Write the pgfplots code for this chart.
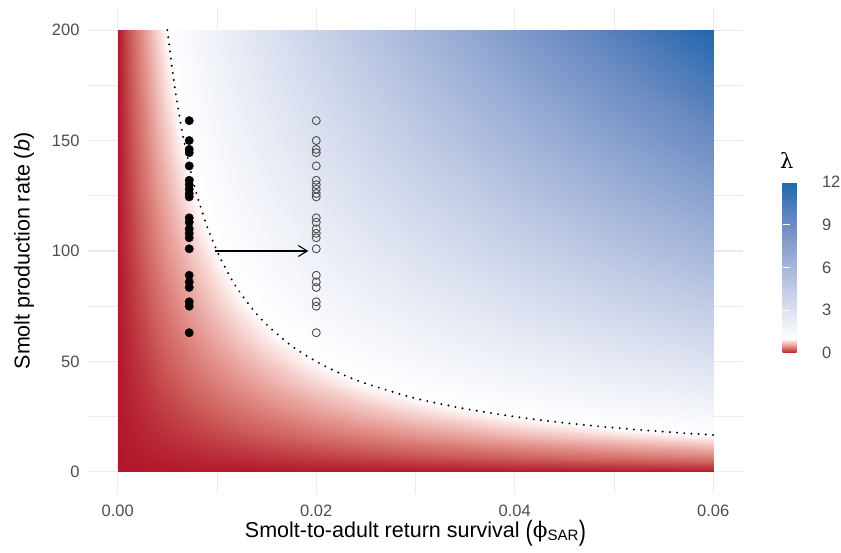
\documentclass[border=0pt]{standalone}
\usepackage{fontspec}
\setmainfont{Liberation Sans}
\newfontfamily\greekfont{DejaVu Serif}
\usepackage{graphicx}
\usepackage{pgfplots}
\pgfplotsset{compat=1.18}
\usetikzlibrary{arrows.meta}
\definecolor{axgray}{HTML}{4D4D4D}
\definecolor{gridmaj}{HTML}{EBEBEB}
\begin{document}
\begin{tikzpicture}[x=1bp,y=1bp]
\useasboundingbox (0,0) rectangle (841,553);
\begin{axis}[
  at={(88bp,59bp)}, anchor=south west,
  scale only axis, width=655bp, height=486bp,
  xmin=-0.003, xmax=0.063, ymin=-10, ymax=210,
  scaled x ticks=false, scaled y ticks=false,
  axis line style={draw=none},
  major tick length=0pt, minor tick length=0pt,
  xtick={0,0.02,0.04,0.06}, xticklabels={0.00,0.02,0.04,0.06},
  minor xtick={0.01,0.03,0.05},
  ytick={0,50,100,150,200}, yticklabels={0,50,100,150,200},
  minor ytick={25,75,125,175},
  grid=both,
  major grid style={gridmaj, line width=1.1bp},
  minor grid style={gridmaj, line width=0.55bp},
  ticklabel style={font=\fontsize{16.5bp}{19bp}\selectfont, text=axgray},
  xticklabel style={yshift=-7bp},
  yticklabel style={xshift=-5bp},
  xlabel={Smolt-to-adult return survival {\raisebox{-0.17em}{\scalebox{1}[1.3]{(}}{\greekfont ϕ}\textsubscript{\fontsize{15bp}{16bp}\selectfont SAR}\raisebox{-0.17em}{\scalebox{1}[1.3]{)}}}},
  xlabel style={at={(axis description cs:0.5,-0.0885)}, anchor=base, font=\fontsize{21.5bp}{24bp}\selectfont},
  ylabel={Smolt production rate (\textit{b})},
  ylabel style={at={(axis description cs:-0.0977,0.5)}, anchor=center, font=\fontsize{21.5bp}{24bp}\selectfont},
  colormap={rdbu}{rgb255(0pt)=(178,24,43); rgb255(0.25pt)=(205,94,90); rgb255(0.5pt)=(228,148,142); rgb255(0.75pt)=(244,201,197); rgb255(1pt)=(255,255,255); rgb255(3.75pt)=(206,214,234); rgb255(6.5pt)=(156,175,214); rgb255(9.25pt)=(104,137,193); rgb255(12pt)=(33,102,172)},
  point meta min=0, point meta max=12,
  colorbar,
  colorbar style={
    at={(parent axis.east)}, anchor=west, xshift=31bp, yshift=-16.5bp,
    scale only axis, width=35bp, height=171bp,
    axis line style={draw=none},
    ytick={0,3,6,9,12}, yticklabels={0,3,6,9,12},
    ytick pos=both, yticklabel pos=right,
    tick align=inside, major tick length=7bp,
    tick style={white, line width=0.9bp},
    yticklabel style={font=\fontsize{16.5bp}{19bp}\selectfont, text=axgray, xshift=1bp},
    title={\greekfont λ},
    title style={at={(0,1)}, anchor=south west, xshift=-6bp, yshift=4bp, font=\fontsize{21bp}{24bp}\selectfont},
  },
]
% heat map of lambda
\addplot[surf, shader=interp, mesh/cols=18, point meta=explicit] coordinates {
(0,0)[0] (0.001,0)[0] (0.002,0)[0] (0.003,0)[0] (0.004,0)[0] (0.005,0)[0] (0.006,0)[0] (0.007,0)[0] (0.008,0)[0] (0.01,0)[0] (0.012,0)[0] (0.015,0)[0] (0.02,0)[0] (0.025,0)[0] (0.03,0)[0] (0.04,0)[0] (0.05,0)[0] (0.06,0)[0]
(0,3)[0] (0.001,3)[0.003] (0.002,3)[0.006] (0.003,3)[0.009] (0.004,3)[0.012] (0.005,3)[0.015] (0.006,3)[0.018] (0.007,3)[0.021] (0.008,3)[0.024] (0.01,3)[0.03] (0.012,3)[0.036] (0.015,3)[0.045] (0.02,3)[0.06] (0.025,3)[0.075] (0.03,3)[0.09] (0.04,3)[0.12] (0.05,3)[0.15] (0.06,3)[0.18]
(0,6)[0] (0.001,6)[0.006] (0.002,6)[0.012] (0.003,6)[0.018] (0.004,6)[0.024] (0.005,6)[0.03] (0.006,6)[0.036] (0.007,6)[0.042] (0.008,6)[0.048] (0.01,6)[0.06] (0.012,6)[0.072] (0.015,6)[0.09] (0.02,6)[0.12] (0.025,6)[0.15] (0.03,6)[0.18] (0.04,6)[0.24] (0.05,6)[0.3] (0.06,6)[0.36]
(0,9)[0] (0.001,9)[0.009] (0.002,9)[0.018] (0.003,9)[0.027] (0.004,9)[0.036] (0.005,9)[0.045] (0.006,9)[0.054] (0.007,9)[0.063] (0.008,9)[0.072] (0.01,9)[0.09] (0.012,9)[0.108] (0.015,9)[0.135] (0.02,9)[0.18] (0.025,9)[0.225] (0.03,9)[0.27] (0.04,9)[0.36] (0.05,9)[0.45] (0.06,9)[0.54]
(0,12)[0] (0.001,12)[0.012] (0.002,12)[0.024] (0.003,12)[0.036] (0.004,12)[0.048] (0.005,12)[0.06] (0.006,12)[0.072] (0.007,12)[0.084] (0.008,12)[0.096] (0.01,12)[0.12] (0.012,12)[0.144] (0.015,12)[0.18] (0.02,12)[0.24] (0.025,12)[0.3] (0.03,12)[0.36] (0.04,12)[0.48] (0.05,12)[0.6] (0.06,12)[0.72]
(0,16)[0] (0.001,16)[0.016] (0.002,16)[0.032] (0.003,16)[0.048] (0.004,16)[0.064] (0.005,16)[0.08] (0.006,16)[0.096] (0.007,16)[0.112] (0.008,16)[0.128] (0.01,16)[0.16] (0.012,16)[0.192] (0.015,16)[0.24] (0.02,16)[0.32] (0.025,16)[0.4] (0.03,16)[0.48] (0.04,16)[0.64] (0.05,16)[0.8] (0.06,16)[0.96]
(0,20)[0] (0.001,20)[0.02] (0.002,20)[0.04] (0.003,20)[0.06] (0.004,20)[0.08] (0.005,20)[0.1] (0.006,20)[0.12] (0.007,20)[0.14] (0.008,20)[0.16] (0.01,20)[0.2] (0.012,20)[0.24] (0.015,20)[0.3] (0.02,20)[0.4] (0.025,20)[0.5] (0.03,20)[0.6] (0.04,20)[0.8] (0.05,20)[1] (0.06,20)[1.2]
(0,25)[0] (0.001,25)[0.025] (0.002,25)[0.05] (0.003,25)[0.075] (0.004,25)[0.1] (0.005,25)[0.125] (0.006,25)[0.15] (0.007,25)[0.175] (0.008,25)[0.2] (0.01,25)[0.25] (0.012,25)[0.3] (0.015,25)[0.375] (0.02,25)[0.5] (0.025,25)[0.625] (0.03,25)[0.75] (0.04,25)[1] (0.05,25)[1.25] (0.06,25)[1.5]
(0,30)[0] (0.001,30)[0.03] (0.002,30)[0.06] (0.003,30)[0.09] (0.004,30)[0.12] (0.005,30)[0.15] (0.006,30)[0.18] (0.007,30)[0.21] (0.008,30)[0.24] (0.01,30)[0.3] (0.012,30)[0.36] (0.015,30)[0.45] (0.02,30)[0.6] (0.025,30)[0.75] (0.03,30)[0.9] (0.04,30)[1.2] (0.05,30)[1.5] (0.06,30)[1.8]
(0,40)[0] (0.001,40)[0.04] (0.002,40)[0.08] (0.003,40)[0.12] (0.004,40)[0.16] (0.005,40)[0.2] (0.006,40)[0.24] (0.007,40)[0.28] (0.008,40)[0.32] (0.01,40)[0.4] (0.012,40)[0.48] (0.015,40)[0.6] (0.02,40)[0.8] (0.025,40)[1] (0.03,40)[1.2] (0.04,40)[1.6] (0.05,40)[2] (0.06,40)[2.4]
(0,50)[0] (0.001,50)[0.05] (0.002,50)[0.1] (0.003,50)[0.15] (0.004,50)[0.2] (0.005,50)[0.25] (0.006,50)[0.3] (0.007,50)[0.35] (0.008,50)[0.4] (0.01,50)[0.5] (0.012,50)[0.6] (0.015,50)[0.75] (0.02,50)[1] (0.025,50)[1.25] (0.03,50)[1.5] (0.04,50)[2] (0.05,50)[2.5] (0.06,50)[3]
(0,60)[0] (0.001,60)[0.06] (0.002,60)[0.12] (0.003,60)[0.18] (0.004,60)[0.24] (0.005,60)[0.3] (0.006,60)[0.36] (0.007,60)[0.42] (0.008,60)[0.48] (0.01,60)[0.6] (0.012,60)[0.72] (0.015,60)[0.9] (0.02,60)[1.2] (0.025,60)[1.5] (0.03,60)[1.8] (0.04,60)[2.4] (0.05,60)[3] (0.06,60)[3.6]
(0,75)[0] (0.001,75)[0.075] (0.002,75)[0.15] (0.003,75)[0.225] (0.004,75)[0.3] (0.005,75)[0.375] (0.006,75)[0.45] (0.007,75)[0.525] (0.008,75)[0.6] (0.01,75)[0.75] (0.012,75)[0.9] (0.015,75)[1.125] (0.02,75)[1.5] (0.025,75)[1.875] (0.03,75)[2.25] (0.04,75)[3] (0.05,75)[3.75] (0.06,75)[4.5]
(0,100)[0] (0.001,100)[0.1] (0.002,100)[0.2] (0.003,100)[0.3] (0.004,100)[0.4] (0.005,100)[0.5] (0.006,100)[0.6] (0.007,100)[0.7] (0.008,100)[0.8] (0.01,100)[1] (0.012,100)[1.2] (0.015,100)[1.5] (0.02,100)[2] (0.025,100)[2.5] (0.03,100)[3] (0.04,100)[4] (0.05,100)[5] (0.06,100)[6]
(0,125)[0] (0.001,125)[0.125] (0.002,125)[0.25] (0.003,125)[0.375] (0.004,125)[0.5] (0.005,125)[0.625] (0.006,125)[0.75] (0.007,125)[0.875] (0.008,125)[1] (0.01,125)[1.25] (0.012,125)[1.5] (0.015,125)[1.875] (0.02,125)[2.5] (0.025,125)[3.125] (0.03,125)[3.75] (0.04,125)[5] (0.05,125)[6.25] (0.06,125)[7.5]
(0,150)[0] (0.001,150)[0.15] (0.002,150)[0.3] (0.003,150)[0.45] (0.004,150)[0.6] (0.005,150)[0.75] (0.006,150)[0.9] (0.007,150)[1.05] (0.008,150)[1.2] (0.01,150)[1.5] (0.012,150)[1.8] (0.015,150)[2.25] (0.02,150)[3] (0.025,150)[3.75] (0.03,150)[4.5] (0.04,150)[6] (0.05,150)[7.5] (0.06,150)[9]
(0,175)[0] (0.001,175)[0.175] (0.002,175)[0.35] (0.003,175)[0.525] (0.004,175)[0.7] (0.005,175)[0.875] (0.006,175)[1.05] (0.007,175)[1.225] (0.008,175)[1.4] (0.01,175)[1.75] (0.012,175)[2.1] (0.015,175)[2.625] (0.02,175)[3.5] (0.025,175)[4.375] (0.03,175)[5.25] (0.04,175)[7] (0.05,175)[8.75] (0.06,175)[10.5]
(0,200)[0] (0.001,200)[0.2] (0.002,200)[0.4] (0.003,200)[0.6] (0.004,200)[0.8] (0.005,200)[1] (0.006,200)[1.2] (0.007,200)[1.4] (0.008,200)[1.6] (0.01,200)[2] (0.012,200)[2.4] (0.015,200)[3] (0.02,200)[4] (0.025,200)[5] (0.03,200)[6] (0.04,200)[8] (0.05,200)[10] (0.06,200)[12]
};
% lambda = 1 contour
\addplot[black, line width=2.2bp, line cap=round, dash pattern=on 0bp off 7.2bp, smooth] coordinates {
(0.005,200) (0.0052,192.3) (0.0055,181.8) (0.0058,172.4) (0.006,166.7) (0.0065,153.8) (0.007,142.9) (0.0075,133.3) (0.008,125) (0.009,111.1) (0.01,100) (0.011,90.9) (0.012,83.3) (0.0135,74.1) (0.015,66.7) (0.0175,57.1) (0.02,50) (0.0225,44.4) (0.025,40) (0.03,33.3) (0.035,28.6) (0.04,25) (0.045,22.2) (0.05,20) (0.055,18.2) (0.06,16.7)
};
% arrow
\addplot[black, line width=1.1bp, -{Straight Barb[length=9bp, width=11bp, line width=1.1bp]}] coordinates {(0.0098,100) (0.0192,100)};
% current survival
\addplot[only marks, mark=*, mark size=4.2bp, black] coordinates {
(0.0072,159) (0.0072,150) (0.0072,146) (0.0072,144.5) (0.0072,138.5) (0.0072,132) (0.0072,130) (0.0072,128) (0.0072,126) (0.0072,124.5) (0.0072,115) (0.0072,113) (0.0072,110) (0.0072,108) (0.0072,106) (0.0072,101) (0.0072,89) (0.0072,86) (0.0072,83.5) (0.0072,77) (0.0072,75) (0.0072,63)
};
% improved survival
\addplot[only marks, mark=o, mark size=4bp, mark options={draw=black!70, line width=0.9bp}] coordinates {
(0.02,159) (0.02,150) (0.02,146) (0.02,144.5) (0.02,138.5) (0.02,132) (0.02,130) (0.02,128) (0.02,126) (0.02,124.5) (0.02,115) (0.02,113) (0.02,110) (0.02,108) (0.02,106) (0.02,101) (0.02,89) (0.02,86) (0.02,83.5) (0.02,77) (0.02,75) (0.02,63)
};
\end{axis}
\end{tikzpicture}
\end{document}
